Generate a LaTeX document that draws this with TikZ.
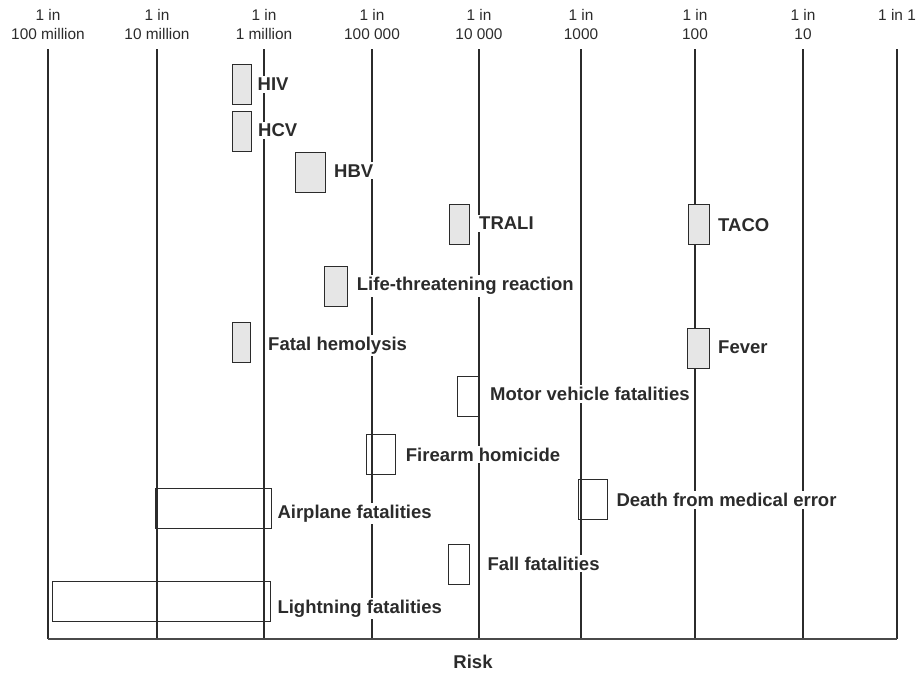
\documentclass[tikz,border=0pt]{standalone}
\usepackage{fontspec}
\setmainfont{Liberation Sans}
\definecolor{ink}{HTML}{2B2B2B}
\definecolor{boxfill}{HTML}{E6E6E6}
\definecolor{axisgray}{HTML}{4A4A4A}
\begin{document}
\begin{tikzpicture}[x=1pt,y=-1pt,
  hdr/.style={font=\fontsize{15.4}{18}\selectfont, text=ink, inner sep=0pt, anchor=base},
  lbl/.style={font=\fontsize{18.5}{22}\selectfont\bfseries, text=ink, fill=white, inner xsep=1.5pt, inner ysep=2pt, anchor=base west},
  gridline/.style={draw=ink, line width=1.1pt},
  axisline/.style={draw=axisgray, line width=1.8pt},
  rbox/.style={draw=ink, line width=1pt, inner sep=0pt, outer sep=0pt, minimum height=40pt},
  gbox/.style={rbox, fill=boxfill},
  obox/.style={rbox}]
\useasboundingbox (0,0) rectangle (917,673);

% header labels
\foreach \i/\x/\t in {1/48/100 million, 2/157/10 million, 3/264/1 million, 4/372/100 000, 5/479/10 000, 6/581/1000, 7/695/100, 8/803/10}{
  \node[hdr] (h\i a) at (\x,20) {1 in};
  \node[hdr] (h\i b) at (\x,39.3) {\t};
}
\node[hdr] (h9a) at (897,20) {1 in 1};

% vertical grid lines
\foreach \i/\x in {1/48, 2/157, 3/264, 4/372, 5/479, 6/581, 7/695, 8/803, 9/897}{
  \coordinate (t\i) at (\x,49);
  \coordinate (b\i) at (\x,639);
  \draw[gridline] (t\i) -- (b\i);
}
\draw[axisline] (b1) -- (b9);
\node[hdr, font=\fontsize{18.5}{22}\selectfont\bfseries] (risk) at (473,668) {Risk};

% boxes
\node[gbox, minimum width=18.7pt] (hiv)   at (241.65,84) {};
\node[gbox, minimum width=19pt]   (hcv)   at (241.5,131) {};
\node[gbox, minimum width=29.6pt] (hbv)   at (310.5,172) {};
\node[gbox, minimum width=20pt]   (trali) at (459.3,224) {};
\node[gbox, minimum width=20.7pt] (taco)  at (698.65,224.3) {};
\node[gbox, minimum width=22.3pt] (life)  at (335.85,286.3) {};
\node[gbox, minimum width=18.4pt] (fatal) at (241.5,342.3) {};
\node[gbox, minimum width=22.3pt] (fever) at (698.15,348) {};
\node[obox, minimum width=22.4pt] (motor) at (468.5,396.2) {};
\node[obox, minimum width=29pt]   (fire)  at (381.2,454.3) {};
\node[obox, minimum width=29.4pt] (death) at (593,499.5) {};
\node[obox, minimum width=116.7pt] (air)  at (213.35,508.7) {};
\node[obox, minimum width=20.7pt] (fall)  at (458.65,564.5) {};
\node[obox, minimum width=218pt]  (light) at (161.3,601.3) {};

% labels
\node[lbl] (lhiv)   at (256,90.5)  {HIV};
\node[lbl] (lhcv)   at (256.5,136.5) {HCV};
\node[lbl] (lhbv)   at (332.5,177) {HBV};
\node[lbl] (ltrali) at (477.5,229.5) {TRALI};
\node[lbl] (ltaco)  at (716.5,231.5) {TACO};
\node[lbl] (llife)  at (355.2,290.7) {Life-threatening reaction};
\node[lbl] (lfatal) at (266.5,350) {Fatal hemolysis};
\node[lbl] (lfever) at (716.5,353.3) {Fever};
\node[lbl] (lmotor) at (488.5,400.5) {Motor vehicle fatalities};
\node[lbl] (lfire)  at (404.2,461.3) {Firearm homicide};
\node[lbl] (ldeath) at (614.8,506.7) {Death from medical error};
\node[lbl] (lair)   at (275.8,518.3) {Airplane fatalities};
\node[lbl] (lfall)  at (485.8,570) {Fall fatalities};
\node[lbl] (llight) at (275.8,613.3) {Lightning fatalities};
\end{tikzpicture}
\end{document}
